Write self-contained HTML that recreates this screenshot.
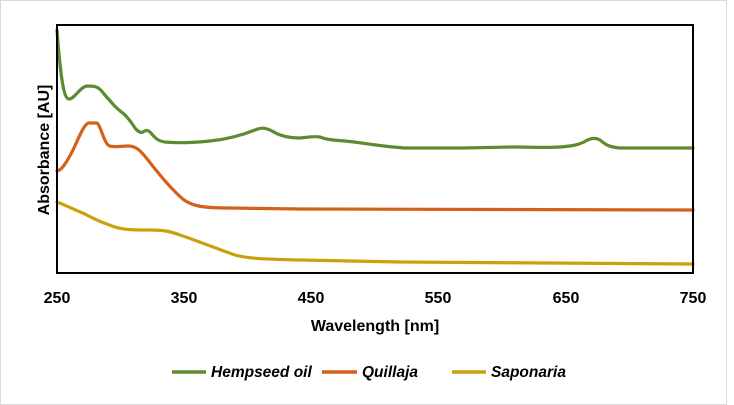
<!DOCTYPE html>
<html><head><style>
html,body{margin:0;padding:0;background:#fff;}
svg{display:block;font-family:"Liberation Sans",sans-serif;}
</style></head><body>
<svg width="734" height="405" viewBox="0 0 734 405">
<rect x="0.5" y="0.5" width="726" height="404" fill="#fff" stroke="#d9d9d9"/>
<g fill="none" stroke-width="3.2" stroke-linejoin="round" stroke-linecap="round">
<path stroke="#5b8c32" d="M57,30 C60,70 63,99 69,99 C75,99 80,86 88,86 C96,86 99,87 104,94 L112,103 C116,108 120,111 124,114 C128,118 132,123 135,128 C138,132 141,133 143,132 C147,129 149,131 151,133 C155,138 158,141 165,142 C175,143 190,143 210,141 C230,139 245,134 255,130 C262,127 266,128 272,131 C280,136 290,138 300,138 C310,137 315,136 320,137 C325,139 330,140 345,141 C365,143 385,147 405,148 L450,148 C480,148 500,147 515,147 C530,147 545,148 560,147 C572,146 578,145 584,142 C590,138 595,137 600,140 C605,144 608,147 620,148 L693,148"/>
<path stroke="#d4611a" d="M57,171 C62,170 66,163 72,152 C78,140 84,123 89,123 L97,123 C101,126 103,140 108,145 C112,148 120,146 128,146 C136,146 140,150 148,160 C158,173 172,190 184,200 C193,206 202,208 230,208 L300,209 L693,210"/>
<path stroke="#c9a10d" d="M57,202 C65,205 75,210 85,214 C92,218 100,222 115,227 C125,230 135,230 150,230 C162,230 170,231 180,235 C195,240 215,248 235,255 C250,259 265,259 300,260 L400,262 L550,263 L693,264"/>
</g>
<rect x="57" y="25" width="636" height="248" fill="none" stroke="#000" stroke-width="2"/>
<g font-size="16" font-weight="bold" text-anchor="middle" fill="#000">
<text x="57" y="303">250</text>
<text x="184" y="303">350</text>
<text x="311" y="303">450</text>
<text x="438" y="303">550</text>
<text x="566" y="303">650</text>
<text x="693" y="303">750</text>
<text x="375" y="331">Wavelength [nm]</text>
<text transform="translate(49,150) rotate(-90)">Absorbance [AU]</text>
</g>
<g font-size="15.5" font-weight="bold" font-style="italic" fill="#000">
<line x1="172" y1="372" x2="206" y2="372" stroke="#5b8c32" stroke-width="3.5"/>
<text x="211" y="377">Hempseed oil</text>
<line x1="322" y1="372" x2="357" y2="372" stroke="#d4611a" stroke-width="3.5"/>
<text x="362" y="377">Quillaja</text>
<line x1="452" y1="372" x2="486" y2="372" stroke="#c9a10d" stroke-width="3.5"/>
<text x="491" y="377">Saponaria</text>
</g>
</svg>
</body></html>
